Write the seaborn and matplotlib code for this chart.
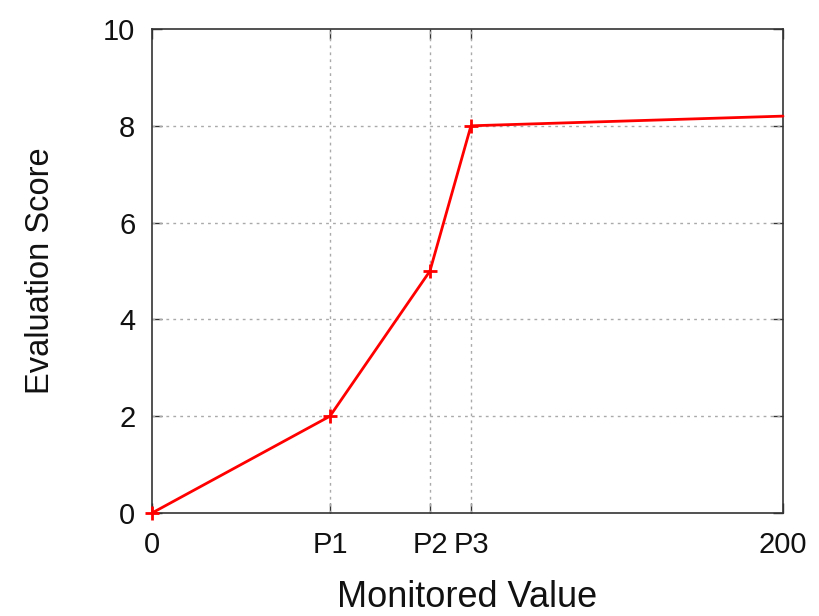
import matplotlib
matplotlib.use("Agg")
import matplotlib.pyplot as plt
import seaborn as sns
import pandas as pd

# Evaluation score as a piecewise-linear function of the monitored value
monitored = [0, 56.4, 88.1, 101.1, 200]
score = [0, 2, 5, 8, 8.2]
x_tick_pos = [0, 56.4, 88.1, 101.1, 200]
x_tick_labels = ["0", "P1", "P2", "P3", "200"]
y_ticks = [0, 2, 4, 6, 8, 10]

sns.set_theme(style="white")
plt.rcParams["font.family"] = ["Liberation Sans", "DejaVu Sans"]

df = pd.DataFrame({"Monitored Value": monitored, "Evaluation Score": score})

fig = plt.figure(figsize=(8.19, 6.16), dpi=100)
ax = fig.add_axes([152 / 819, 1 - 513 / 616, (783 - 152) / 819, (513 - 29) / 616])

sns.lineplot(data=df, x="Monitored Value", y="Evaluation Score", ax=ax,
             color="#ff0000", linewidth=2, marker="+", markersize=10,
             markeredgewidth=2, markeredgecolor="#ff0000",
             markevery=[0, 1, 2, 3], clip_on=False, zorder=5)

ax.set_xlim(0, 200)
ax.set_ylim(0, 10)
ax.set_xticks(x_tick_pos)
ax.set_xticklabels(x_tick_labels)
ax.set_yticks(y_ticks)

# dotted grid on the interior ticks only
for xv in x_tick_pos[1:-1]:
    ax.axvline(xv, color="#aaaaaa", linestyle=(0, (2, 3)), linewidth=1, zorder=1)
for yv in y_ticks[1:-1]:
    ax.axhline(yv, color="#aaaaaa", linestyle=(0, (2, 3)), linewidth=1, zorder=1)

for s in ax.spines.values():
    s.set_color("#333333")
    s.set_linewidth(1.2)
    s.set_visible(True)

ax.tick_params(direction="in", length=7, width=1, color="#333333",
               top=True, right=True, bottom=True, left=True,
               labelsize=21, pad=12, labelcolor="#111111")
ax.tick_params(axis="x", pad=13)

ax.set_xlabel("Monitored Value", fontsize=26, labelpad=15, color="#111111")
ax.set_ylabel("Evaluation Score", fontsize=23.5, labelpad=34, color="#111111")

fig.savefig("out.png", dpi=100)
